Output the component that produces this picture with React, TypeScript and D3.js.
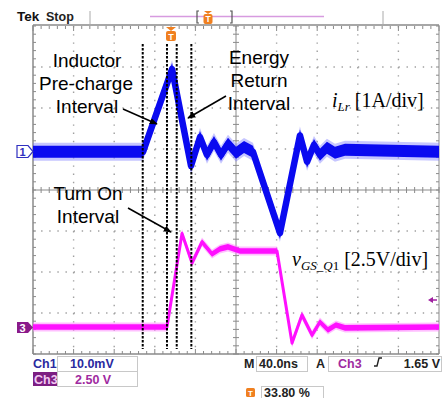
import React from "react";
import * as d3 from "d3";

// Time axis in ns (40 ns/div, 10 div), trigger-centred
const timeCh1 = [-200, -91.6, -63, -44.3, -35.5, -28.6, -21.7, -14.8, -7.9, 0, 7.9, 16.7, 43.3, 63, 70, 76.8, 82.7, 89.6, 97.5, 107.4, 200];
// Inductor current iLr in A (1 A/div)
const iLr = [0, 0, 2.02, -0.34, 0.36, -0.07, 0.24, -0.07, 0.2, -0.02, 0.12, 0, -1.98, 0.4, -0.24, 0.17, -0.07, 0.1, -0.02, 0.05, 0];
const timeCh3 = [-200, -68, -53.2, -43.3, -33.5, -23.6, -15.8, -7.9, 3.9, 40.4, 55.2, 65, 74.9, 82.7, 90.6, 98.5, 107.4, 200];
// Gate voltage vGS_Q1 in V (2.5 V/div)
const vGS = [0, 0, 5.7, 3.9, 5.18, 4.45, 4.76, 4.88, 4.63, 4.63, -0.98, 0.73, -0.49, 0.3, -0.18, 0.12, -0.06, 0];
const cursorTimes = [-91.9, -68, -58.4, -44];

const W = 442, H = 398;
const X0 = 33, X1 = 439, Y0 = 26, Y1 = 354;
const x = d3.scaleLinear().domain([-200, 200]).range([X0, X1]);
const y = d3.scaleLinear().domain([-4, 4]).range([Y1, Y0]);
const ch1Offset = 0.93, ch1Scale = 1;
const ch3Offset = -3.34, ch3Scale = 2.5;

const ch1Pts: [number, number][] = timeCh1.map((t, i) => [x(t), y(ch1Offset + iLr[i] / ch1Scale)]);
const ch3Pts: [number, number][] = timeCh3.map((t, i) => [x(t), y(ch3Offset + vGS[i] / ch3Scale)]);

const band = (h: number) =>
  d3.area<[number, number]>().x(d => d[0]).y0(d => d[1] - h).y1(d => d[1] + h);
const line = d3.line<[number, number]>().x(d => d[0]).y(d => d[1]);

const divX = d3.range(-200, 201, 40);
const divY = d3.range(-4, 4.01, 1);
const minorX = d3.range(-200, 200.01, 8);
const minorY = d3.range(-4, 4.001, 0.2);

const SANS = "'Liberation Sans', Arial, sans-serif";
const SERIF = "'Liberation Serif', 'Times New Roman', serif";

export default function App() {
  const gridCol = "#a0a0a0";
  const frameCol = "#8a8a8a";
  return (
    <div style={{ position: "absolute", left: 0, top: 0 }}>
      <svg width={W} height={H} style={{ display: "block", background: "#fff" }}>
        <defs>
          <marker id="ah" viewBox="0 0 10 10" refX="9" refY="5" markerWidth="8" markerHeight="8" orient="auto" markerUnits="userSpaceOnUse">
            <path d="M0,1 L10,5 L0,9 z" fill="#000" />
          </marker>
        </defs>

        {/* dotted grid */}
        <g>
          {divX.slice(1, -1).filter(t => t !== 0).map(t => (
            <line key={"gx" + t} x1={x(t)} x2={x(t)} y1={Y0} y2={Y1} stroke={gridCol} strokeWidth={1.4} strokeDasharray={`1.4 ${(y(3.8) - y(4) - 1.4).toFixed(2)}`} />
          ))}
          {divY.slice(1, -1).filter(v => v !== 0).map(v => (
            <line key={"gy" + v} x1={X0} x2={X1} y1={y(v)} y2={y(v)} stroke={gridCol} strokeWidth={1.4} strokeDasharray={`1.4 ${(x(8) - x(0) - 1.4).toFixed(2)}`} />
          ))}
        </g>

        {/* center axes with minor ticks */}
        <line x1={x(0)} x2={x(0)} y1={Y0} y2={Y1} stroke={frameCol} strokeWidth={1} />
        <line x1={X0} x2={X1} y1={y(0)} y2={y(0)} stroke={frameCol} strokeWidth={1} />
        {minorX.map(t => (
          <g key={"mx" + t}>
            <line x1={x(t)} x2={x(t)} y1={y(0) - 3} y2={y(0) + 3} stroke={frameCol} />
            <line x1={x(t)} x2={x(t)} y1={Y0} y2={Y0 + (Math.abs(t % 40) < 0.01 ? 5 : 3)} stroke={frameCol} />
            <line x1={x(t)} x2={x(t)} y1={Y1} y2={Y1 - (Math.abs(t % 40) < 0.01 ? 5 : 3)} stroke={frameCol} />
          </g>
        ))}
        {minorY.map(v => (
          <g key={"my" + v.toFixed(1)}>
            <line x1={x(0) - 3} x2={x(0) + 3} y1={y(v)} y2={y(v)} stroke={frameCol} />
            <line x1={X0} x2={X0 + 3} y1={y(v)} y2={y(v)} stroke={frameCol} />
            <line x1={X1} x2={X1 - 3} y1={y(v)} y2={y(v)} stroke={frameCol} />
          </g>
        ))}
        {/* frame */}
        <line x1={X0} x2={X1} y1={Y0 - 1} y2={Y0 - 1} stroke={frameCol} strokeWidth={1.5} />
        <line x1={X0} x2={X1} y1={Y1} y2={Y1} stroke={frameCol} strokeWidth={1.5} />
        <line x1={X0} x2={X0} y1={Y0 - 1} y2={Y1} stroke={frameCol} strokeWidth={1.5} />
        <line x1={X1} x2={X1} y1={Y0 - 1} y2={Y1} stroke={frameCol} strokeWidth={1} />

        {/* Ch3 trace (magenta) */}
        <path d={band(4.5)(ch3Pts) || ""} fill="#ff80ff" opacity={0.5} />
        <path d={band(2.8)(ch3Pts) || ""} fill="#ff10ff" />
        <path d={line(ch3Pts) || ""} fill="none" stroke="#ff10ff" strokeWidth={3} strokeLinejoin="round" />

        {/* Ch1 trace (blue) */}
        <path d={band(9)(ch1Pts) || ""} fill="#7070ff" opacity={0.4} />
        <path d={band(6)(ch1Pts) || ""} fill="#0a0af0" />
        <path d={line(ch1Pts) || ""} fill="none" stroke="#0a0af0" strokeWidth={6.5} strokeLinejoin="round" />

        {/* cursors */}
        {cursorTimes.map(t => (
          <line key={"c" + t} x1={x(t)} x2={x(t)} y1={44} y2={349} stroke="#000" strokeWidth={2} strokeDasharray="2.5 1.5" />
        ))}

        {/* channel markers */}
        <path d="M17,145.5 H28 L33,151.5 L28,157.5 H17 Z" fill="#fff" stroke="#3030c0" strokeWidth={1.2} />
        <text x={22.5} y={156} fontFamily={SANS} fontSize={11} fontWeight="bold" fill="#3030c0" textAnchor="middle">1</text>
        <path d="M17,322 H28 L33,327.5 L28,333 H17 Z" fill="#8a1a8a" />
        <text x={22.5} y={332} fontFamily={SANS} fontSize={11} fontWeight="bold" fill="#fff" textAnchor="middle">3</text>
        {/* trigger level arrow right */}
        <path d="M428,300 L433,297 L433,303 Z" fill="#a020a0" />
        <line x1={432} x2={437} y1={300} y2={300} stroke="#a020a0" strokeWidth={1.5} />

        {/* trigger position marker on graticule */}
        <path d="M166,27 L176,27 L171,31 Z" fill="#f08020" />
        <rect x={166} y={31} width={10} height={10} rx={2} fill="#f08020" />
        <text x={171} y={39.5} fontFamily={SANS} fontSize={9} fontWeight="bold" fill="#fff" textAnchor="middle">T</text>

        {/* top status */}
        <text x={17} y={21} fontFamily={SANS} fontSize={13.5} fontWeight="bold" fill="#111">Tek</text>
        <text x={46} y={21} fontFamily={SANS} fontSize={12.5} fontWeight="bold" fill="#222">Stop</text>
        <line x1={90} x2={90} y1={11} y2={25} stroke="#aaa" />
        <line x1={383} x2={383} y1={11} y2={25} stroke="#aaa" />
        <line x1={150} x2={324} y1={16.5} y2={16.5} stroke="#d79be0" strokeWidth={1.5} />
        <path d="M199,11 H197 V23 H199" fill="none" stroke="#555" strokeWidth={1.2} />
        <path d="M230,11 H232 V23 H230" fill="none" stroke="#555" strokeWidth={1.2} />
        <path d="M204,11 L212,11 L208,14 Z" fill="#f08020" />
        <rect x={203.5} y={14} width={9} height={10} rx={2} fill="#f08020" />
        <text x={208} y={22} fontFamily={SANS} fontSize={8.5} fontWeight="bold" fill="#fff" textAnchor="middle">T</text>

        {/* annotations */}
        <g fontFamily={SANS} fontSize={19} fill="#000" textAnchor="middle">
          <text x={87} y={67}>Inductor</text>
          <text x={86} y={90}>Pre-charge</text>
          <text x={87} y={113}>Interval</text>
          <text x={259} y={64}>Energy</text>
          <text x={259} y={87}>Return</text>
          <text x={259} y={110}>Interval</text>
          <text x={88} y={200}>Turn On</text>
          <text x={88} y={223}>Interval</text>
        </g>
        <line x1={123} y1={109} x2={157} y2={124} stroke="#000" strokeWidth={1.5} markerEnd="url(#ah)" />
        <line x1={226} y1={96} x2={188} y2={118} stroke="#000" strokeWidth={1.5} markerEnd="url(#ah)" />
        <line x1={128} y1={208} x2={171} y2={232} stroke="#000" strokeWidth={1.5} markerEnd="url(#ah)" />

        {/* channel labels */}
        <text x={332} y={107} fontFamily={SERIF} fontSize={20} fill="#000">
          <tspan fontStyle="italic">i</tspan>
          <tspan fontStyle="italic" fontSize={13} dy={4}>Lr</tspan>
          <tspan dy={-4}> [1A/div]</tspan>
        </text>
        <text x={292} y={266} fontFamily={SERIF} fontSize={20} fill="#000">
          <tspan fontStyle="italic">v</tspan>
          <tspan fontStyle="italic" fontSize={13} dy={4}>GS_Q</tspan>
          <tspan fontSize={13}>1</tspan>
          <tspan dy={-4}> [2.5V/div]</tspan>
        </text>

        {/* bottom status */}
        <g fontFamily={SANS} fontSize={12.5} fontWeight="bold">
          <text x={33} y={368} fill="#2a2aa0">Ch1</text>
          <rect x={57.5} y={356.5} width={80} height={15} fill="none" stroke="#c8c8c8" />
          <text x={70} y={368} fill="#2a2aa0">10.0mV</text>
          <rect x={33} y={372} width={24} height={14} fill="#7d1e82" />
          <text x={34} y={383.5} fill="#f2c8f2">Ch3</text>
          <rect x={57.5} y={371.5} width={80} height={15} fill="none" stroke="#c8c8c8" />
          <text x={75} y={383.5} fill="#a02aa0">2.50 V</text>

          <text x={244} y={368} fill="#222">M</text>
          <rect x={256.5} y={356.5} width={51} height={15} fill="none" stroke="#c8c8c8" />
          <text x={259} y={368} fill="#222">40.0ns</text>
          <text x={316} y={368} fill="#222">A</text>
          <rect x={328.5} y={356.5} width={113} height={15} fill="none" stroke="#c8c8c8" />
          <text x={338} y={368} fill="#a02aa0">Ch3</text>
          <path d="M374,366 L377,366 L379,358 L382,358" fill="none" stroke="#222" strokeWidth={1.4} />
          <text x={440} y={368} fill="#222" textAnchor="end">1.65 V</text>

          <rect x={246} y={388} width={9} height={9} rx={1.5} fill="#f08020" />
          <text x={250.5} y={396} fontSize={8} fill="#fff" textAnchor="middle">T</text>
          <rect x={261.5} y={386.5} width={62} height={13} fill="none" stroke="#c8c8c8" />
          <text x={264} y={396.5} fill="#222">33.80 %</text>
        </g>
      </svg>
    </div>
  );
}
